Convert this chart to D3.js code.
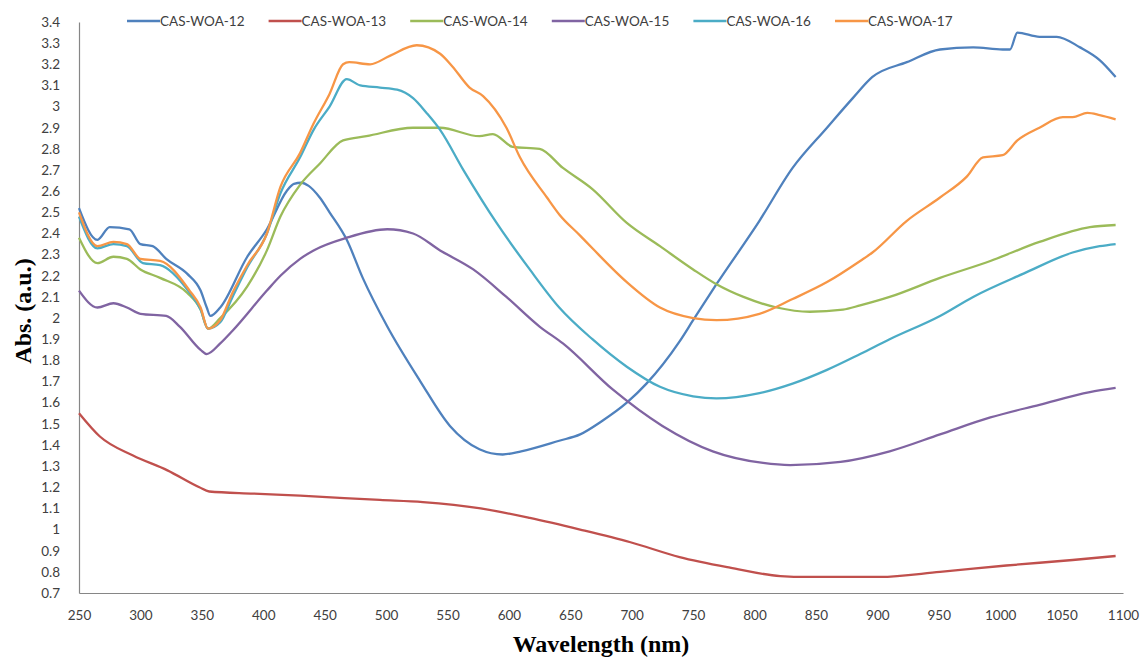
<!DOCTYPE html>
<html>
<head>
<meta charset="utf-8">
<script src="https://cdn.jsdelivr.net/npm/d3@7/dist/d3.min.js"></script>
<style>
  html, body { margin: 0; padding: 0; background: #fff; }
  svg { display: block; }
  .tick-label { font-family: Lato, "Open Sans", sans-serif; font-size: 13.5px; fill: #404040; }
  .legend-label { font-family: Lato, "Open Sans", sans-serif; font-size: 13.5px; fill: #404040; }
  .axis-title { font-family: "Liberation Serif", "DejaVu Serif", serif; font-weight: bold; font-size: 24px; fill: #000; }
</style>
</head>
<body>
<svg id="chart" width="1140" height="659"></svg>
<script>
// Absorption spectra, [wavelength (nm), absorbance (a.u.)]
const casWoa12 = [[250,2.52],[265,2.37],[275,2.43],[291,2.42],[300,2.35],[310,2.34],[321,2.28],[338,2.21],[349,2.13],[354,2.05],[357,2.01],[365,2.05],[387,2.29],[403,2.42],[419,2.60],[425,2.635],[431,2.64],[437,2.625],[446,2.57],[454,2.50],[468,2.37],[481,2.19],[501,1.96],[528,1.70],[552,1.49],[576,1.38],[595,1.355],[610,1.37],[641,1.42],[658,1.45],[675,1.51],[696,1.60],[712,1.69],[739,1.89],[750,1.99],[769,2.16],[804,2.46],[831,2.71],[859,2.90],[880,3.04],[896,3.14],[924,3.21],[951,3.27],[978,3.28],[1002,3.27],[1008,3.27],[1014,3.35],[1032,3.33],[1046,3.33],[1065,3.28],[1081,3.22],[1094,3.14]];
const casWoa13 = [[250,1.55],[267,1.44],[294,1.35],[322,1.28],[348,1.20],[356,1.18],[392,1.17],[430,1.16],[495,1.14],[530,1.13],[577,1.10],[617,1.055],[658,1.0],[699,0.94],[739,0.87],[780,0.82],[821,0.78],[843,0.776],[870,0.776],[902,0.776],[951,0.80],[1005,0.83],[1059,0.856],[1094,0.875]];
const casWoa14 = [[250,2.38],[265,2.26],[278,2.29],[289,2.28],[300,2.23],[316,2.19],[338,2.12],[349,2.04],[355,1.95],[365,2.00],[387,2.15],[403,2.32],[414,2.48],[430,2.63],[446,2.73],[465,2.84],[484,2.86],[522,2.90],[544,2.90],[576,2.86],[587,2.87],[603,2.81],[625,2.80],[644,2.71],[668,2.61],[696,2.45],[723,2.34],[750,2.23],[769,2.16],[791,2.10],[818,2.05],[845,2.03],[872,2.04],[886,2.06],[910,2.10],[951,2.19],[992,2.27],[1032,2.36],[1073,2.43],[1094,2.44]];
const casWoa15 = [[250,2.13],[265,2.05],[278,2.07],[289,2.05],[300,2.02],[321,2.01],[332,1.96],[349,1.85],[354,1.83],[365,1.88],[375,1.94],[403,2.13],[414,2.20],[430,2.28],[441,2.32],[468,2.38],[501,2.42],[522,2.40],[544,2.32],[571,2.23],[598,2.10],[625,1.96],[644,1.88],[685,1.66],[725,1.49],[766,1.37],[807,1.315],[829,1.305],[870,1.32],[910,1.37],[951,1.45],[992,1.53],[1032,1.59],[1073,1.65],[1094,1.67]];
const casWoa16 = [[250,2.48],[265,2.33],[278,2.35],[289,2.34],[302,2.26],[316,2.25],[340,2.12],[349,2.04],[355,1.95],[365,1.98],[375,2.10],[387,2.24],[403,2.40],[414,2.59],[430,2.76],[441,2.89],[454,3.00],[468,3.13],[479,3.10],[495,3.09],[509,3.08],[522,3.04],[533,2.97],[544,2.89],[563,2.70],[590,2.45],[617,2.23],[641,2.05],[668,1.90],[696,1.77],[723,1.675],[750,1.63],[769,1.62],[804,1.645],[831,1.69],[859,1.755],[886,1.83],[910,1.90],[951,2.01],[978,2.10],[1019,2.21],[1059,2.31],[1081,2.34],[1094,2.35]];
const casWoa17 = [[250,2.50],[265,2.34],[278,2.36],[289,2.35],[300,2.28],[316,2.27],[340,2.13],[349,2.05],[355,1.95],[365,1.99],[375,2.12],[387,2.25],[403,2.40],[414,2.62],[430,2.78],[441,2.92],[454,3.06],[465,3.20],[470,3.21],[487,3.20],[503,3.24],[525,3.29],[544,3.25],[554,3.19],[568,3.09],[579,3.05],[598,2.90],[609,2.76],[631,2.57],[641,2.49],[658,2.39],[668,2.33],[696,2.17],[723,2.05],[750,2.00],[769,1.99],[804,2.02],[831,2.09],[859,2.17],[886,2.27],[896,2.31],[924,2.46],[951,2.57],[973,2.67],[986,2.76],[1002,2.77],[1014,2.84],[1032,2.90],[1051,2.95],[1059,2.95],[1071,2.97],[1081,2.96],[1094,2.94]];

const seriesNames = ["CAS-WOA-12","CAS-WOA-13","CAS-WOA-14","CAS-WOA-15","CAS-WOA-16","CAS-WOA-17"];
const seriesValues = [casWoa12, casWoa13, casWoa14, casWoa15, casWoa16, casWoa17];
const seriesColors = ["#4F81BD","#C0504D","#9BBB59","#8064A2","#4BACC6","#F79646"];

const xTicks = d3.range(250, 1101, 50);
const yTicks = d3.range(7, 35).map(v => v / 10);

const svg = d3.select("#chart");
const plot = { left: 79, right: 1123, top: 22, bottom: 593 };

const x = d3.scaleLinear().domain([250, 1100]).range([plot.left, plot.right]);
const y = d3.scaleLinear().domain([0.7, 3.4]).range([plot.bottom, plot.top]);

// Axes (no tick marks, grey axis lines)
const yAxis = d3.axisLeft(y).tickValues(yTicks).tickSize(0).tickPadding(19)
  .tickFormat(d => String(+d.toFixed(1)));
const gy = svg.append("g").attr("transform", `translate(${plot.left},0)`).call(yAxis);
gy.select(".domain").attr("stroke", "#868686").attr("stroke-width", 1.2);
gy.selectAll("text").attr("class", "tick-label");

const xAxis = d3.axisBottom(x).tickValues(xTicks).tickSize(0).tickPadding(17)
  .tickFormat(d3.format("d"));
const gx = svg.append("g").attr("transform", `translate(0,${plot.bottom})`).call(xAxis);
gx.select(".domain").attr("stroke", "#868686").attr("stroke-width", 1.2);
gx.selectAll("text").attr("class", "tick-label");

// Spectra
const line = d3.line()
  .x(d => x(d[0]))
  .y(d => y(d[1]))
  .curve(d3.curveMonotoneX);

svg.append("g").selectAll("path")
  .data(seriesValues)
  .join("path")
  .attr("d", line)
  .attr("fill", "none")
  .attr("stroke", (d, i) => seriesColors[i])
  .attr("stroke-width", 2.3)
  .attr("stroke-linejoin", "round");

// Legend across the top
const legendX = d3.scalePoint().domain(seriesNames).range([127, 835]);
const legend = svg.append("g").selectAll("g")
  .data(seriesNames)
  .join("g")
  .attr("transform", d => `translate(${legendX(d)},21)`);
legend.append("line")
  .attr("x1", 0).attr("x2", 33).attr("y1", 0).attr("y2", 0)
  .attr("stroke", (d, i) => seriesColors[i])
  .attr("stroke-width", 2.3);
legend.append("text")
  .attr("class", "legend-label")
  .attr("x", 33).attr("y", 0).attr("dy", "0.35em")
  .text(d => d);

// Axis titles
svg.append("text")
  .attr("class", "axis-title")
  .attr("text-anchor", "middle")
  .attr("x", (plot.left + plot.right) / 2)
  .attr("y", 652)
  .text("Wavelength (nm)");

svg.append("text")
  .attr("class", "axis-title")
  .attr("text-anchor", "middle")
  .attr("transform", "translate(31,311) rotate(-90)")
  .text("Abs. (a.u.)");
</script>
</body>
</html>
